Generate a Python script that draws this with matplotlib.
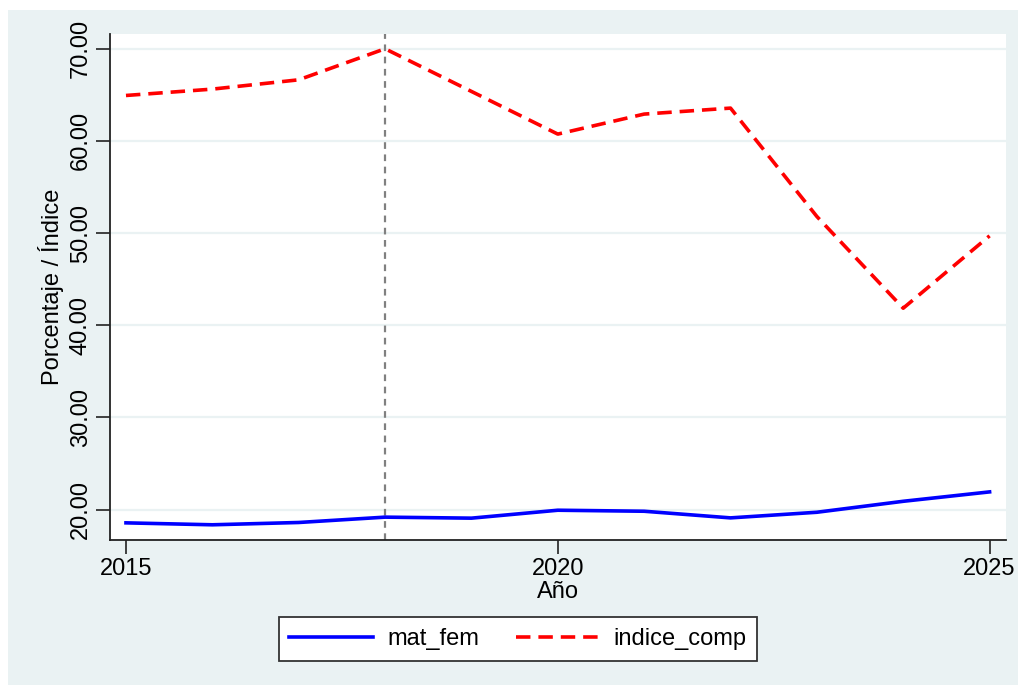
import numpy as np
import matplotlib.pyplot as plt
from matplotlib.patches import Rectangle

years = [2015, 2016, 2017, 2018, 2019, 2020, 2021, 2022, 2023, 2024, 2025]
mat_fem = [18.56, 18.35, 18.6, 19.18, 19.07, 19.93, 19.82, 19.1, 19.71, 20.9, 21.92]
indice_comp = [64.93, 65.62, 66.63, 70.0, 65.37, 60.74, 62.91, 63.56, 51.8, 41.85, 49.7]
corte = 2018
yticks = [20, 30, 40, 50, 60, 70]
xticks = [2015, 2020, 2025]

plt.rcParams['font.family'] = ['Liberation Sans', 'DejaVu Sans']
bg = '#eaf2f3'
W, H = 1018, 685

fig = plt.figure(figsize=(W / 100, H / 100), dpi=100)
fig.patch.set_facecolor('white')
fig.add_artist(Rectangle((8 / W, 0), 1 - 8 / W, 1 - 10 / H, transform=fig.transFigure,
                         facecolor=bg, edgecolor='none', zorder=0))

ax = fig.add_axes([110 / W, 1 - 540 / H, (1006 - 110) / W, (540 - 34) / H])
ax.set_facecolor('white')

ax.plot(years, mat_fem, color='#0000ff', lw=2.6, label='mat_fem', zorder=3)
ax.plot(years, indice_comp, color='#ff0000', lw=2.6, dashes=(4, 2.2), label='indice_comp', zorder=3)
ax.axvline(corte, color='#808080', lw=1.6, dashes=(3, 2.5), zorder=2)

ax.set_xlim(2014.815, 2025.19)
ax.set_ylim(16.7, 71.6)
ax.set_yticks(yticks)
ax.set_yticklabels([f'{v:.2f}' for v in yticks], rotation=90, va='center')
ax.set_xticks(xticks)
ax.grid(axis='y', color=bg, lw=1.6)
ax.set_axisbelow(True)

for s in ['top', 'right']:
    ax.spines[s].set_visible(False)
for s in ['left', 'bottom']:
    ax.spines[s].set_color('#222222')
    ax.spines[s].set_linewidth(1.3)
ax.tick_params(length=10, width=1.2, color='#222222', labelsize=17, pad=3)

ax.set_ylabel('Porcentaje / Índice', fontsize=17, labelpad=4)
ax.set_xlabel('Año', fontsize=17, labelpad=1)

leg = fig.legend(loc='center', bbox_to_anchor=(518 / W, 1 - 639 / H), ncol=2,
                 fontsize=17, frameon=True, fancybox=False, framealpha=1,
                 handlelength=3.55, handletextpad=0.6, columnspacing=1.55, borderpad=0.45)
leg.get_frame().set_edgecolor('#333333')
leg.get_frame().set_linewidth(1.3)

fig.savefig('out.png', dpi=100)
